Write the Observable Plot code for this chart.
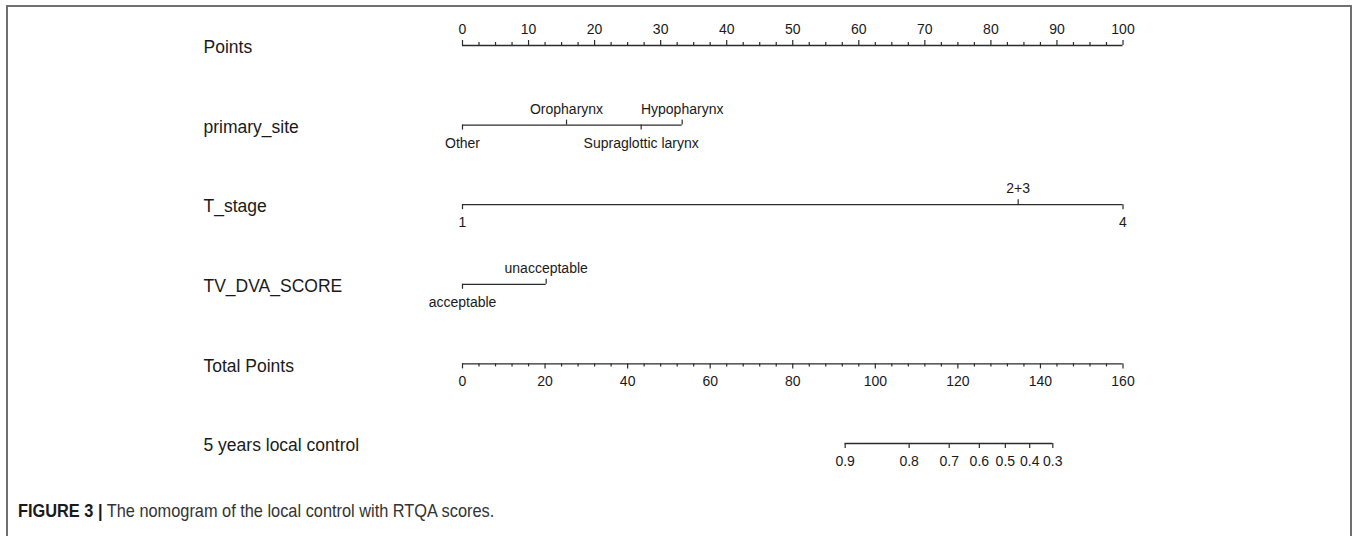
<!DOCTYPE html>
<html>
<head>
<meta charset="utf-8">
<script src="https://cdn.jsdelivr.net/npm/d3@7"></script>
<script src="https://cdn.jsdelivr.net/npm/@observablehq/plot@0.6"></script>
<style>
  html, body { margin: 0; padding: 0; background: #fff; }
  #page { position: relative; width: 1357px; height: 536px; overflow: hidden; }
  #frame { position: absolute; left: 6px; top: 5px; width: 1346px; height: 560px;
           border: 2px solid #707070; border-bottom: none; box-sizing: border-box; }
  #chart { position: absolute; left: 0; top: 0; }
  #caption { position: absolute; left: 18px; top: 500px; font-family: "Liberation Sans", Arial, sans-serif;
             font-size: 19px; color: #333; white-space: nowrap; transform: scaleX(0.86); transform-origin: 0 50%; }
  #caption b { font-weight: bold; color: #1a1a1a; }
</style>
</head>
<body>
<div id="page">
  <div id="frame"></div>
  <div id="chart"></div>
  <div id="caption"><b>FIGURE 3 |</b> The nomogram of the local control with RTQA scores.</div>
</div>
<script>
// ---- data ----
const rowLabels = ["Points", "primary_site", "T_stage", "TV_DVA_SCORE", "Total Points", "5 years local control"];

const pointsMajor = [0, 10, 20, 30, 40, 50, 60, 70, 80, 90, 100];
const pointsMinor = d3.range(0, 100.001, 2.5);

const siteLevels = ["Other", "Oropharynx", "Supraglottic larynx", "Hypopharynx"];
const sitePoints = [0, 15.75, 27.05, 33.26];
const siteSide   = ["below", "above", "below", "above"];

const tLevels = ["1", "2+3", "4"];
const tPoints = [0, 84.13, 100];
const tSide   = ["below", "above", "below"];

const dvaLevels = ["acceptable", "unacceptable"];
const dvaPoints = [0, 12.67];
const dvaSide   = ["below", "above"];

const totalMajor = [0, 20, 40, 60, 80, 100, 120, 140, 160];
const totalMinor = d3.range(0, 160.001, 4);
const totalMax = 160;

const lcLabels = ["0.9", "0.8", "0.7", "0.6", "0.5", "0.4", "0.3"];
const lcTotals = [92.7, 108.2, 117.9, 125.2, 131.5, 137.4, 143.0];

// ---- build tables ----
const toPts = t => t * 100 / totalMax;

const factorRows = [
  {row: 1, levels: siteLevels, pts: sitePoints, side: siteSide},
  {row: 2, levels: tLevels, pts: tPoints, side: tSide},
  {row: 3, levels: dvaLevels, pts: dvaPoints, side: dvaSide}
];
const factorTicks = factorRows.flatMap(r => r.levels.map((l, i) => ({row: r.row, label: l, x: r.pts[i], side: r.side[i]})));
const upTicks = [
  ...pointsMajor.map(v => ({row: 0, x: v, len: 5})),
  ...pointsMinor.filter(v => !pointsMajor.includes(v)).map(v => ({row: 0, x: v, len: 3})),
  ...factorTicks.filter(d => d.side === "above").map(d => ({row: d.row, x: d.x, len: 5}))
];
const downTicks = [
  ...factorTicks.filter(d => d.side === "below").map(d => ({row: d.row, x: d.x, len: 5})),
  ...totalMajor.map(v => ({row: 4, x: toPts(v), len: 5})),
  ...totalMinor.filter(v => !totalMajor.includes(v)).map(v => ({row: 4, x: toPts(v), len: 3})),
  ...lcTotals.map(v => ({row: 5, x: toPts(v), len: 5}))
];
const lines = [
  {row: 0, x1: 0, x2: 100},
  ...factorRows.map(r => ({row: r.row, x1: d3.min(r.pts), x2: d3.max(r.pts)})),
  {row: 4, x1: 0, x2: toPts(totalMax)},
  {row: 5, x1: toPts(d3.min(lcTotals)), x2: toPts(d3.max(lcTotals))}
];
const aboveText = [
  ...pointsMajor.map(v => ({row: 0, x: v, label: String(v)})),
  ...factorTicks.filter(d => d.side === "above")
];
const belowText = [
  ...factorTicks.filter(d => d.side === "below"),
  ...totalMajor.map(v => ({row: 4, x: toPts(v), label: String(v)})),
  ...lcTotals.map((v, i) => ({row: 5, x: toPts(v), label: lcLabels[i]}))
];
const rowText = rowLabels.map((l, i) => ({row: i, label: l}));

const ink = "#2b2b2b";
const font = "'Liberation Sans', Arial, Helvetica, sans-serif";

const plot = Plot.plot({
  width: 1357,
  height: 490,
  marginLeft: 462,
  marginRight: 234.5,
  marginTop: 45,
  marginBottom: 47,
  x: {domain: [0, 100], axis: null},
  y: {domain: [0, 5], reverse: true, axis: null},
  style: {fontFamily: font, background: "transparent", overflow: "visible"},
  marks: [
    Plot.ruleY(lines, {y: "row", x1: "x1", x2: "x2", stroke: ink, strokeWidth: 1.3}),
    Plot.ruleX(upTicks.filter(d => d.len === 5), {x: "x", y1: "row", y2: "row", insetBottom: 5, stroke: ink, strokeWidth: 1.2}),
    Plot.ruleX(upTicks.filter(d => d.len === 3), {x: "x", y1: "row", y2: "row", insetBottom: 3, stroke: ink, strokeWidth: 1.2}),
    Plot.ruleX(downTicks.filter(d => d.len === 5), {x: "x", y1: "row", y2: "row", insetTop: 5, stroke: ink, strokeWidth: 1.2}),
    Plot.ruleX(downTicks.filter(d => d.len === 3), {x: "x", y1: "row", y2: "row", insetTop: 3, stroke: ink, strokeWidth: 1.2}),
    Plot.text(aboveText, {x: "x", y: "row", text: "label", dy: -16, fontSize: 14, fill: "#1a1a1a"}),
    Plot.text(belowText, {x: "x", y: "row", text: "label", dy: 18, fontSize: 14, fill: "#1a1a1a"}),
    Plot.text(rowText, {y: "row", text: "label", frameAnchor: "left", dx: -259, dy: 2, textAnchor: "start", fontSize: 17.5, fill: "#1a1a1a"})
  ]
});
document.getElementById("chart").appendChild(plot);
</script>
</body>
</html>
